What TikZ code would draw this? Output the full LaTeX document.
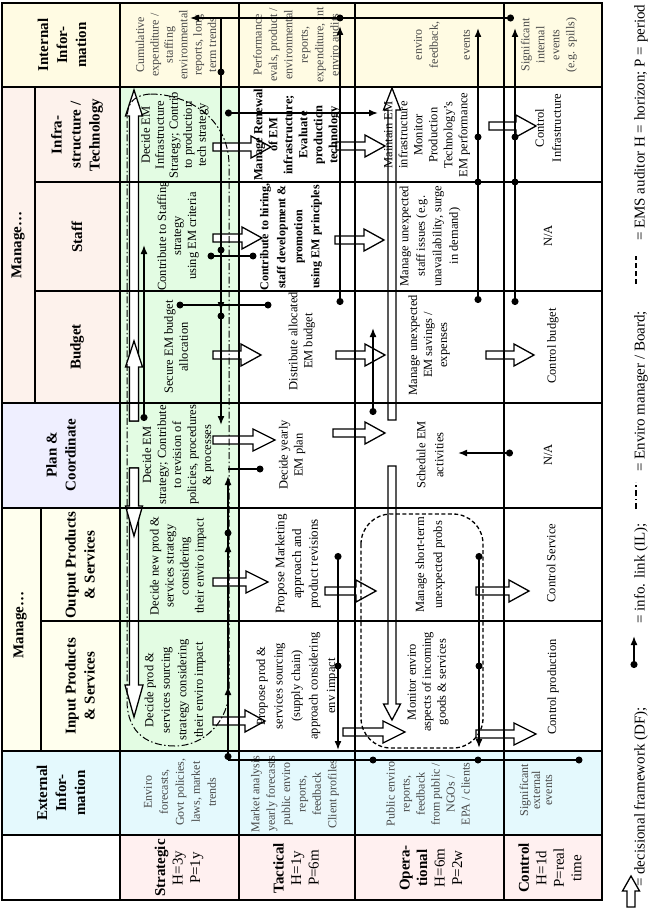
\documentclass[tikz,border=0pt]{standalone}
\usepackage{fontspec}
\setmainfont{Liberation Serif}
\usetikzlibrary{arrows.meta}
\definecolor{cInt}{HTML}{FFFBE3}
\definecolor{cManA}{HTML}{FDF2EC}
\definecolor{cPlan}{HTML}{EFEFFF}
\definecolor{cManB}{HTML}{FFFFEE}
\definecolor{cExt}{HTML}{E4F9FD}
\definecolor{cLbl}{HTML}{FFF0F0}
\definecolor{cStr}{HTML}{E3FCE3}
\begin{document}
\begin{tikzpicture}[x=1pt,y=-1pt,
  gridline/.style={line width=2pt},
  cell/.style={rotate=90, align=center, inner sep=0pt, font=\fontsize{12.5}{15}\selectfont},
  boldcell/.style={cell, font=\fontsize{12.5}{15}\selectfont\bfseries},
  info/.style={cell, text=black!72},
  hdr/.style={rotate=90, align=center, inner sep=0pt, font=\fontsize{15}{19}\selectfont\bfseries},
  lbl/.style={rotate=90, align=center, inner sep=0pt, font=\fontsize{15}{17.5}\selectfont},
  leg/.style={rotate=90, inner sep=0pt, font=\fontsize{15}{18}\selectfont},
  dfline/.style={draw=black, fill=white, line width=1.3pt, line join=miter},
  il/.style={line width=1.6pt, {Circle[length=7pt]}-{Latex[length=9pt,width=7pt]}},
  ila/.style={line width=1.6pt, -{Latex[length=9pt,width=7pt]}},
  ilp/.style={line width=1.6pt},
  ildot/.style={circle, fill=black, inner sep=0pt, minimum size=7pt},
  emline/.style={line width=1pt, dash pattern=on 7pt off 2.5pt on 1.5pt off 2.5pt},
  emleg/.style={line width=2pt, dash pattern=on 6pt off 3pt on 1.5pt off 3pt},
  audline/.style={line width=1.3pt, dash pattern=on 4pt off 2.5pt},
  audleg/.style={line width=2pt, dash pattern=on 5pt off 3pt},
  pics/dfa/.style args={#1/#2/#3/#4}{code={
    \draw[dfline] (0,-#2) -- ({#1-#4},-#2) -- ({#1-#4},-#3) -- (#1,0) -- ({#1-#4},#3) -- ({#1-#4},#2) -- (0,#2) -- cycle;}}
]
\useasboundingbox (0,0) rectangle (654,912);
\fill[white] (0,0) rectangle (654,912);
% ---------- backgrounds
\fill[cInt] (2,3) rectangle (602,87);
\fill[cManA] (2,87) rectangle (120,403);
\fill[cPlan] (2,403) rectangle (120,508);
\fill[cManB] (2,508) rectangle (120,751);
\fill[cExt] (2,751) rectangle (602,835);
\fill[cLbl] (120,835) rectangle (602,900);
\fill[cStr] (120,87) rectangle (239,751);

% ---------- decisional framework arrows (hollow)
\pic at (213,147) {dfa=58/4/11/20};
\pic at (336,146) {dfa=49/4/11/20};
\pic at (489,126) {dfa=47/4/11/20};
\pic at (213,238) {dfa=49/4/11/20};
\pic at (335,240) {dfa=49/4/11/20};
\pic at (213,355) {dfa=48/4/11/20};
\pic at (336,355) {dfa=49/4/11/20};
\pic at (486,355) {dfa=48/4/11/20};
\pic at (213,440) {dfa=62/4/11/22};
\pic at (333,433) {dfa=52/4/11/20};
\pic at (213,582) {dfa=55/4/11/22};
\pic at (325,591) {dfa=51/4/11/20};
\pic at (476,591) {dfa=53/4/11/20};
\pic at (213,721) {dfa=52/4/11/20};
\pic at (343,732) {dfa=62/4/11/22};
\pic at (476,734) {dfa=60/4/11/22};
% vertical ones, strategic column
\pic[rotate=90] at (134,421) {dfa=331/4.5/8.5/26};
\pic[rotate=90] at (134,421) {dfa=80/4.5/8.5/26};
\pic[rotate=-90] at (134,468) {dfa=249/4.5/9/32};
\pic[rotate=-90] at (134,468) {dfa=68/4.5/8.5/30};
% vertical ones, operational column
\pic[rotate=90] at (392,420) {dfa=332/4/8.5/22};
\pic[rotate=-90] at (392,466) {dfa=254/4/8.5/16};

% ---------- grid
\draw[gridline] (120,3) -- (120,900);
\draw[gridline] (239,3) -- (239,900);
\draw[gridline] (355,3) -- (355,900);
\draw[gridline] (504,3) -- (504,900);
\draw[gridline] (2,87) -- (602,87);
\draw[gridline] (35,182) -- (602,182);
\draw[gridline] (35,291) -- (602,291);
\draw[gridline] (2,403) -- (602,403);
\draw[gridline] (2,508) -- (602,508);
\draw[gridline] (41,621) -- (602,621);
\draw[gridline] (2,751) -- (602,751);
\draw[gridline] (2,835) -- (602,835);
\draw[gridline] (35,87) -- (35,403);
\draw[gridline] (41,508) -- (41,751);
\draw[line width=2.5pt] (2,3) rectangle (602,900);

% ---------- header texts
\node[hdr] (hInt) at (62,45) {Internal\\Infor-\\mation};
\node[hdr] (hManA) at (18,245) {Manage…};
\node[hdr] (hInfra) at (77,135) {Infra-\\structure /\\Technology};
\node[hdr] (hStaff) at (77,237) {Staff};
\node[hdr] (hBudget) at (77,347) {Budget};
\node[hdr] (hPlan) at (61,455) {Plan \&\\Coordinate};
\node[hdr] (hManB) at (20,625) {Manage…};
\node[hdr] (hOut) at (80,565) {Output Products\\\& Services};
\node[hdr] (hIn) at (80,686) {Input Products\\\& Services};
\node[hdr] (hExt) at (61,793) {External\\Infor-\\mation};

% ---------- level labels
\node[lbl] (rS) at (179,868) {\textbf{Strategic}\\H=3y\\P=1y};
\node[lbl] (rT) at (296,868) {\textbf{Tactical}\\H=1y\\P=6m};
\node[lbl] (rO) at (431,868) {\textbf{Opera-}\\\textbf{tional}\\H=6m\\P=2w};
\node[lbl] (rC) at (550,868) {\textbf{Control}\\H=1d\\P=real\\time};

% ---------- internal information row
\node[info, font=\fontsize{12}{14.4}\selectfont] (iS) at (176,45) {Cumulative\\expenditure /\\staffing\\environmental\\reports, long\\term trends};
\node[info, font=\fontsize{12}{15.4}\selectfont] (iT) at (296,45) {Performance\\evals, product /\\environmental\\reports,\\expenditure, int\\enviro audits};
\node[info, font=\fontsize{12}{16}\selectfont] (iO) at (442,45) {enviro\\feedback,\\\mbox{}\\events};
\node[info, font=\fontsize{12}{15}\selectfont] (iC) at (549,45) {Significant\\internal\\events\\(e.g. spills)};

% ---------- strategic
\node[cell, font=\fontsize{12.5}{14}\selectfont] (sInfra) at (175,135) {Decide EM\\Infrastructure\\Strategy; Contrib\\to production\\tech strategy};
\node[cell] (sStaff) at (178,236) {Contribute to Staffing\\strategy\\using EM criteria};
\node[cell] (sBudget) at (176,347) {Secure EM budget\\allocation};
\node[cell] (sPlan) at (178,455) {Decide EM\\strategy; Contribute\\to revision of\\policies, procedures\\\& processes};
\node[cell] (sOut) at (178,566) {Decide new prod \&\\services strategy\\considering\\their enviro impact};
\node[cell, font=\fontsize{12.5}{16.5}\selectfont] (sIn) at (175,690) {Decide prod \&\\services sourcing\\strategy considering\\their enviro impact};

% ---------- tactical
\node[boldcell] (tInfra) at (297,135) {Manage Renewal\\of EM\\infrastructure;\\Evaluate\\production\\technology};
\node[boldcell, font=\fontsize{12}{17}\selectfont\bfseries] (tStaff) at (291,237) {Contribute to hiring,\\staff development \&\\promotion\\using EM principles};
\node[cell] (tBudget) at (302,341) {Distribute allocated\\EM budget};
\node[cell] (tPlan) at (292,455) {Decide yearly\\EM plan};
\node[cell, font=\fontsize{13}{16.7}\selectfont] (tOut) at (298,564) {Propose Marketing\\approach and\\product revisions};
\node[cell, font=\fontsize{12.5}{17.5}\selectfont] (tIn) at (297,686) {Propose prod \&\\services sourcing\\(supply chain)\\approach considering\\env impact};

% ---------- operational
\node[cell] (oInfra) at (427,135) {Maintain EM\\infrastructure\\Monitor\\Production\\Technology's\\EM performance};
\node[cell, font=\fontsize{12.5}{16.5}\selectfont] (oStaff) at (430,236) {Manage unexpected\\staff issues (e.g.\\unavailability, surge\\in demand)};
\node[cell] (oBudget) at (429,345) {Manage unexpected\\EM savings /\\expenses};
\node[cell, font=\fontsize{12.5}{18}\selectfont] (oPlan) at (430,455) {Schedule EM\\activities};
\node[cell, font=\fontsize{12.5}{18}\selectfont] (oOut) at (430,565) {Manage short-term\\unexpected probs};
\node[cell] (oIn) at (428,682) {Monitor enviro\\aspects of incoming\\goods \& services};

% ---------- control
\node[cell, font=\fontsize{12.5}{17}\selectfont] (cInfra) at (548,128) {Control\\Infrastructure};
\node[cell] (cStaff) at (548,236) {N/A};
\node[cell] (cBudget) at (553,346) {Control budget};
\node[cell] (cPlan) at (548,455) {N/A};
\node[cell] (cOut) at (551,563) {Control Service};
\node[cell] (cIn) at (553,687) {Control production};

% ---------- external information row
\node[info, font=\fontsize{12}{16}\selectfont] (eS) at (180,792) {Enviro\\forecasts,\\Govt policies,\\laws, market\\trends};
\node[info, font=\fontsize{12}{15.4}\selectfont] (eT) at (295,794) {Market analysis\\yearly forecasts\\public enviro\\reports,\\feedback\\Client profiles};
\node[info, font=\fontsize{12}{15}\selectfont] (eO) at (428,794) {Public enviro\\reports,\\feedback\\from public /\\NGOs /\\EPA / clients};
\node[info, font=\fontsize{12}{12}\selectfont] (eC) at (536,790) {Significant\\external\\events};

% ---------- info links
\coordinate (t1) at (514,18);  \coordinate (t2) at (190,18);
\coordinate (b1) at (221,18);  \coordinate (b2) at (221,425);
\coordinate (b3) at (221,290); \coordinate (b4) at (221,311);
\coordinate (k1) at (340,305); \coordinate (k2) at (340,26);
\coordinate (m1) at (478,303); \coordinate (m2) at (478,28);
\coordinate (n1) at (515,305); \coordinate (n2) at (515,28);
\coordinate (h1) at (225,113); \coordinate (h2) at (378,113);
\coordinate (g1) at (180,305); \coordinate (g2) at (268,305);
\coordinate (f1) at (211,256); \coordinate (f2) at (253,256);
\coordinate (s1) at (144,421); \coordinate (s2) at (144,245);
\coordinate (u1) at (228,760); \coordinate (u2) at (228,476);
\coordinate (u3) at (228,560); \coordinate (u4) at (228,543);
\coordinate (u5) at (228,700); \coordinate (u6) at (228,686);
\coordinate (w1) at (228,469); \coordinate (w2) at (260,469);
\coordinate (v1) at (338,553); \coordinate (v2) at (338,750);
\coordinate (q1) at (479,553); \coordinate (q2) at (479,748);
\coordinate (e1) at (579,760);
\coordinate (r1) at (373,415); \coordinate (r2) at (373,328);
\coordinate (z1) at (513,453); \coordinate (z2) at (458,453);

\draw[il] (t1) -- (t2);
\draw[ila] (b1) -- (b2);
\draw[ila] (b3) -- (b4);
\draw[il] (k1) -- (k2);
\draw[il] (m1) -- (m2);
\draw[il] (n1) -- (n2);
\draw[il] (h1) -- (h2);
\draw[ilp] (g1) -- (g2);
\draw[ilp] (f1) -- (f2);
\draw[il] (s1) -- (s2);
\draw[il] (u1) -- (u2);
\draw[ila] (u3) -- (u4);
\draw[ila] (u5) -- (u6);
\draw[ilp] (w1) -- (w2);
\draw[il] (v1) -- (v2);
\draw[il] (q1) -- (q2);
\draw[ilp] (u1) -- (e1);
\draw[il] (r1) -- (r2);
\draw[il] (z1) -- (z2);

\node[ildot] (d1) at (340,18) {};
\node[ildot] (d2) at (221,72) {};
\node[ildot] (d3) at (221,250) {};
\node[ildot] (d4) at (221,316) {};
\node[ildot] (d5) at (478,137) {};
\node[ildot] (d6) at (478,182) {};
\node[ildot] (d7) at (515,137) {};
\node[ildot] (d8) at (515,182) {};
\node[ildot] (d9) at (g1) {};
\node[ildot] (d10) at (g2) {};
\node[ildot] (d11) at (f1) {};
\node[ildot] (d12) at (f2) {};
\node[ildot] (d13) at (228,533) {};
\node[ildot] (d14) at (w2) {};
\node[ildot] (d15) at (338,666) {};
\node[ildot] (d16) at (479,666) {};
\node[ildot] (d17) at (373,760) {};
\node[ildot] (d18) at (478,760) {};
\node[ildot] (d19) at (e1) {};

% ---------- enviro manager (dash-dot) and EMS auditor (dashed)
\draw[emline] (150,94) .. controls (127,96) and (127,110) .. (127,125) -- (127,700)
  .. controls (127,735) and (150,746) .. (175,746)
  .. controls (205,746) and (229,720) .. (229,690) -- (229,165)
  .. controls (229,120) and (190,94) .. (150,94);
\draw[audline, rounded corners=30pt] (361,514) rectangle (483,748);

% ---------- legend
\pic[rotate=90] at (631,907) {dfa=31/4/8.5/15};
\node[leg, anchor=west] (lg1) at (641,887) {= decisional framework (DF);};
\coordinate (lga) at (634,668); \coordinate (lgb) at (634,636);
\draw[il] (lga) -- (lgb);
\node[leg, anchor=west] (lg2) at (641,624) {= info. link (IL);};
\coordinate (lgc) at (636,509); \coordinate (lgd) at (636,482);
\draw[emleg] (lgc) -- (lgd);
\node[leg, anchor=west] (lg3) at (641,472) {= Enviro manager / Board;};
\coordinate (lge) at (636,284); \coordinate (lgf) at (636,256);
\draw[audleg] (lge) -- (lgf);
\node[leg, anchor=west] (lg4) at (641,241) {= EMS auditor H = horizon; P = period};
\end{tikzpicture}
\end{document}
